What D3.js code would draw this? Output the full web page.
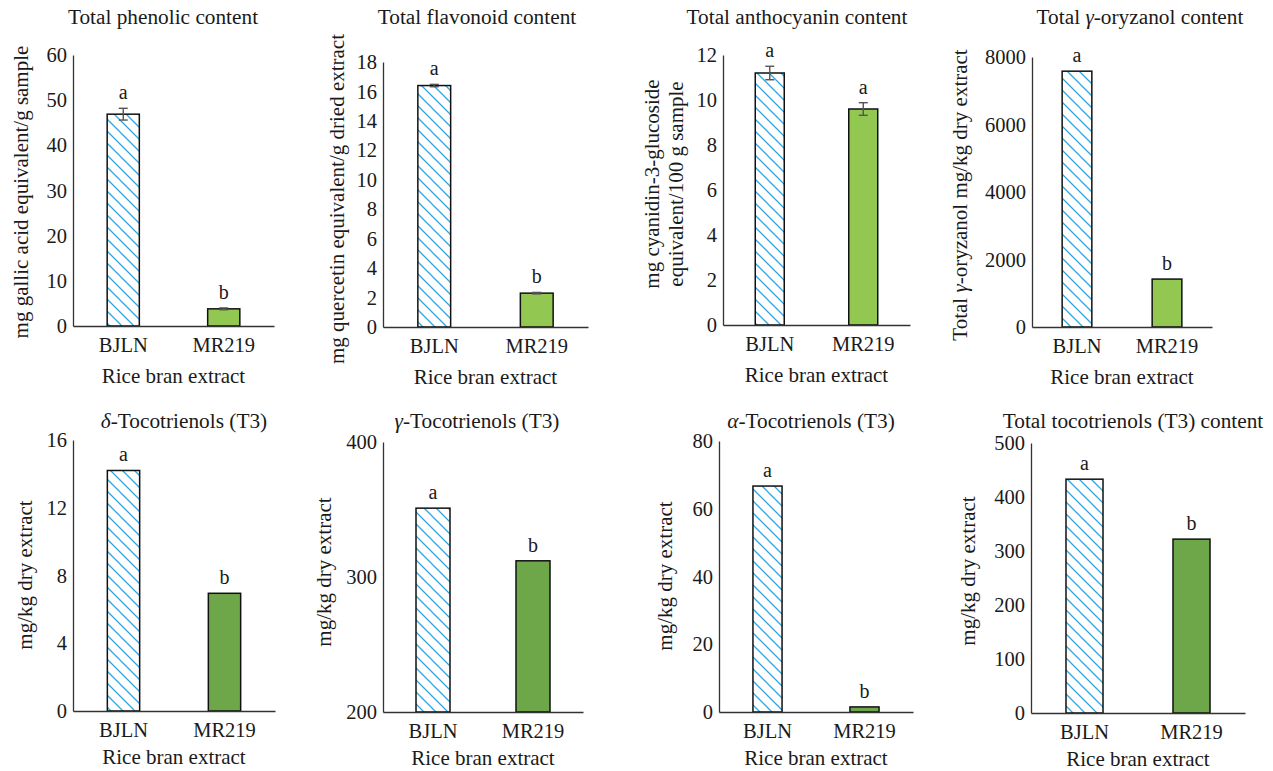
<!DOCTYPE html>
<html><head><meta charset="utf-8">
<script src="https://cdn.jsdelivr.net/npm/d3@7/dist/d3.min.js"></script>
<style>
body{margin:0;background:#fff;}
svg text{font-family:"Liberation Serif","Times New Roman",serif;fill:#1a1a1a;}
</style></head>
<body><svg id="c" width="1273" height="771"></svg>
<script>
// ---- data ----
const categories = ["BJLN", "MR219"];
const titles = ["Total phenolic content", "Total flavonoid content", "Total anthocyanin content", "Total *γ*-oryzanol content",
  "*δ*-Tocotrienols (T3)", "*γ*-Tocotrienols (T3)", "*α*-Tocotrienols (T3)", "Total tocotrienols (T3) content"];
const yLabels = [["mg gallic acid equivalent/g sample"], ["mg quercetin equivalent/g dried extract"],
  ["mg cyanidin-3-glucoside", "equivalent/100 g sample"], ["Total *γ*-oryzanol mg/kg dry extract"],
  ["mg/kg dry extract"], ["mg/kg dry extract"], ["mg/kg dry extract"], ["mg/kg dry extract"]];
const xLabel = "Rice bran extract";
const phenolic = [46.9, 3.8], phenolicErr = [1.3, 0.2];
const flavonoid = [16.4, 2.3], flavonoidErr = [0.08, 0.05];
const anthocyanin = [11.2, 9.6], anthocyaninErr = [0.3, 0.28];
const oryzanol = [7580, 1420];
const deltaT3 = [14.2, 6.95];
const gammaT3 = [351, 312];
const alphaT3 = [66.7, 1.5];
const totalT3 = [433, 322];
const letters = [["a", "b"], ["a", "b"], ["a", "a"], ["a", "b"], ["a", "b"], ["a", "b"], ["a", "b"], ["a", "b"]];
const ticks = [[0, 10, 20, 30, 40, 50, 60], [0, 2, 4, 6, 8, 10, 12, 14, 16, 18], [0, 2, 4, 6, 8, 10, 12],
  [0, 2000, 4000, 6000, 8000], [0, 4, 8, 12, 16], [200, 300, 400], [0, 20, 40, 60, 80], [0, 100, 200, 300, 400, 500]];
const values = [phenolic, flavonoid, anthocyanin, oryzanol, deltaT3, gammaT3, alphaT3, totalT3];
const errors = [phenolicErr, flavonoidErr, anthocyaninErr, null, null, null, null, null];

// ---- layout ----
const layout = [
  {x0: 73, x1: 274, y0: 55, y1: 326, bw: 0.16, tx: 163, ty: 24, lx: [21], ly: 192, row: 0},
  {x0: 383, x1: 588, y0: 62, y1: 327, bw: 0.16, tx: 477, ty: 24, lx: [337], ly: 199, row: 0},
  {x0: 723, x1: 910, y0: 55, y1: 325, bw: 0.155, tx: 797, ty: 24, lx: [652, 676], ly: 184, row: 0},
  {x0: 1032, x1: 1212, y0: 57, y1: 327, bw: 0.165, tx: 1140, ty: 24, lx: [960], ly: 195, row: 0},
  {x0: 73, x1: 275, y0: 440, y1: 711, bw: 0.16, tx: 184, ty: 428, lx: [25], ly: 575, row: 1},
  {x0: 383, x1: 583, y0: 442, y1: 712, bw: 0.17, tx: 477, ty: 428, lx: [324], ly: 572, row: 1},
  {x0: 719, x1: 913, y0: 441, y1: 712, bw: 0.15, tx: 811, ty: 428, lx: [665], ly: 576, row: 1},
  {x0: 1031, x1: 1245, y0: 443, y1: 713, bw: 0.173, tx: 1133, ty: 428, lx: [968], ly: 571, row: 1}
];
const greens = ["#92c852", "#6ea749"];
const hatchBlue = "#2ea6e0";
const fsTitle = 21.3, fsTick = 20.5, fsLabel = 21, fsLetter = 20;

const svg = d3.select("#c");
const defs = svg.append("defs");
const pat = defs.append("pattern").attr("id", "hatch").attr("patternUnits", "userSpaceOnUse")
  .attr("width", 12).attr("height", 12);
pat.append("rect").attr("width", 12).attr("height", 12).attr("fill", "#fff");
pat.append("path").attr("d", "M-3,-3L15,15M-3,9L3,15M9,-3L15,3")
  .attr("stroke", hatchBlue).attr("stroke-width", 1.3);

function richText(sel, str) {
  str.split("*").forEach((seg, i) => {
    if (!seg) return;
    const t = sel.append("tspan").text(seg);
    if (i % 2 === 1) t.attr("font-style", "italic");
  });
}

layout.forEach((L, i) => {
  const g = svg.append("g");
  const vals = values[i], errs = errors[i], tk = ticks[i];
  const y = d3.scaleLinear().domain([tk[0], tk[tk.length - 1]]).range([L.y1, L.y0]);
  const q = 1 - L.bw * 2;
  const x = d3.scaleBand().domain(categories).range([L.x0, L.x1]).paddingInner(q).paddingOuter(q / 2);

  // bars
  g.selectAll("rect.bar").data(categories).join("rect")
    .attr("x", d => x(d)).attr("width", x.bandwidth())
    .attr("y", (d, j) => y(vals[j])).attr("height", (d, j) => y(tk[0]) - y(vals[j]))
    .attr("fill", (d, j) => j === 0 ? "url(#hatch)" : greens[L.row])
    .attr("stroke", "#111").attr("stroke-width", 1.5);

  // error bars
  if (errs) {
    categories.forEach((c, j) => {
      const cx = x(c) + x.bandwidth() / 2;
      const eg = g.append("g").attr("stroke", "#555").attr("stroke-width", 1.4);
      eg.append("line").attr("x1", cx).attr("x2", cx).attr("y1", y(vals[j] - errs[j])).attr("y2", y(vals[j] + errs[j]));
      [vals[j] - errs[j], vals[j] + errs[j]].forEach(v => {
        eg.append("line").attr("x1", cx - 4.5).attr("x2", cx + 4.5).attr("y1", y(v)).attr("y2", y(v));
      });
    });
  }

  // letters
  categories.forEach((c, j) => {
    const top = vals[j] + (errs ? errs[j] : 0);
    g.append("text").attr("x", x(c) + x.bandwidth() / 2).attr("y", y(top) - 9)
      .attr("text-anchor", "middle").attr("font-size", fsLetter).text(letters[i][j]);
  });

  // y axis
  const ya = g.append("g").attr("transform", `translate(${L.x0},0)`)
    .call(d3.axisLeft(y).tickValues(tk).tickSize(0).tickSizeOuter(0).tickPadding(6).tickFormat(d3.format("d")));
  ya.select(".domain").attr("stroke", "#333").attr("stroke-width", 1.3);
  ya.selectAll("text").attr("font-size", fsTick).attr("font-family", null).attr("fill", "#1a1a1a");

  // x axis
  const xa = g.append("g").attr("transform", `translate(0,${L.y1})`)
    .call(d3.axisBottom(x).tickSize(0).tickSizeOuter(0).tickPadding(11.5));
  xa.select(".domain").attr("stroke", "#333").attr("stroke-width", 1.3);
  xa.selectAll("text").attr("font-size", fsTick).attr("font-family", null).attr("fill", "#1a1a1a");

  // x title
  g.append("text").attr("x", (L.x0 + L.x1) / 2).attr("y", L.y1 + (L.row ? 52.5 : 57))
    .attr("text-anchor", "middle").attr("font-size", fsLabel).text(xLabel);

  // title
  const t = g.append("text").attr("x", L.tx).attr("y", L.ty)
    .attr("text-anchor", "middle").attr("font-size", fsTitle);
  richText(t, titles[i]);

  // y label
  yLabels[i].forEach((s, k) => {
    const yt = g.append("text").attr("transform", `translate(${L.lx[k]},${L.ly}) rotate(-90)`)
      .attr("dy", "0.35em").attr("text-anchor", "middle").attr("font-size", fsLabel);
    richText(yt, s);
  });
});
</script></body></html>
